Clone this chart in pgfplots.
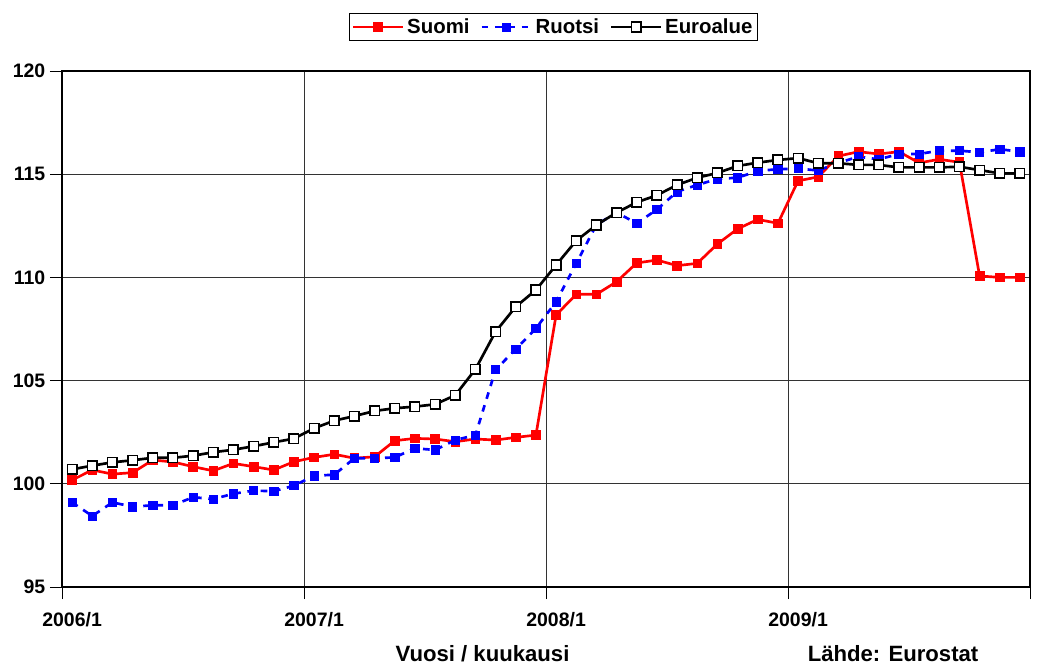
\documentclass[border=0pt]{standalone}
\usepackage{fontspec}
\setmainfont{Liberation Sans}
\usepackage{pgfplots}
\usepackage{pgfplotstable}
\pgfplotsset{compat=1.18}
\pgfplotstableread{
i s r e
0 100.18 99.10 100.70
1 100.67 98.44 100.88
2 100.47 99.10 101.04
3 100.54 98.89 101.14
4 101.15 98.96 101.26
5 101.06 98.96 101.26
6 100.83 99.35 101.36
7 100.63 99.26 101.53
8 100.99 99.52 101.65
9 100.83 99.67 101.82
10 100.67 99.64 102.01
11 101.07 99.91 102.19
12 101.28 100.39 102.69
13 101.43 100.44 103.06
14 101.24 101.24 103.28
15 101.31 101.24 103.53
16 102.09 101.28 103.66
17 102.20 101.72 103.74
18 102.17 101.64 103.85
19 102.04 102.12 104.29
20 102.17 102.36 105.55
21 102.12 105.53 107.37
22 102.25 106.52 108.58
23 102.36 107.53 109.39
24 108.18 108.82 110.60
25 109.18 110.68 111.78
26 109.18 112.55 112.54
27 109.79 113.14 113.14
28 110.70 112.62 113.64
29 110.84 113.29 113.98
30 110.57 114.15 114.48
31 110.68 114.48 114.83
32 111.62 114.77 115.06
33 112.35 114.83 115.40
34 112.81 115.16 115.56
35 112.62 115.24 115.69
36 114.68 115.27 115.78
37 114.87 115.18 115.53
38 115.88 115.55 115.53
39 116.09 115.85 115.45
40 115.98 115.72 115.45
41 116.09 115.98 115.33
42 115.55 115.98 115.33
43 115.72 116.14 115.33
44 115.58 116.14 115.36
45 110.07 116.06 115.20
46 110.00 116.21 115.04
47 110.00 116.09 115.04
}\datatable
\begin{document}
\begin{tikzpicture}
\useasboundingbox (-46.5pt,-60.75pt) rectangle (731.25pt,440.25pt);
\begin{axis}[
  at={(0pt,0pt)}, anchor=south west,
  scale only axis,
  width=726pt, height=387pt,
  xmin=-0.5, xmax=47.5, ymin=95, ymax=120,
  xtick={-0.5,11.5,23.5,35.5,47.5},
  xticklabels={2006/1,2007/1,2008/1,2009/1,{}},
  ytick={95,100,105,110,115,120},
  tick align=outside,
  major tick length=9pt,
  xmajorgrids, ymajorgrids,
  grid style={black!80, line width=0.7pt},
  axis line style={black, line width=0.8pt},
  tick style={black, line width=0.7pt},
  xtick pos=bottom, ytick pos=left,
  /pgf/number format/assume math mode=true,
  ticklabel style={font=\fontsize{14.6}{17}\selectfont\bfseries},
  xticklabel style={xshift=7.5625pt, yshift=-6.5pt},
  clip=false,
  legend columns=3,
  legend style={at={(axis description cs:0.5077,1.0853)}, anchor=center,
    draw=black, line width=0.8pt, fill=white,
    font=\fontsize{15.3}{17}\selectfont\bfseries,
    inner xsep=2pt, inner ysep=1.5pt,
    /tikz/every even column/.append style={column sep=6pt}},
  legend image code/.code={\draw[mark repeat=2,mark phase=2,#1] plot coordinates {(0cm,0cm) (0.66cm,0cm) (1.32cm,0cm)};},
]
\addplot[red, line width=2pt, mark=square*, mark size=3.3pt, mark options={solid, fill=red, draw=red, line width=0.5pt}] table[x=i, y=s] {\datatable};
\addlegendentry{Suomi}
\addplot[blue, line width=2pt, dash pattern=on 5pt off 5pt, mark=square*, mark size=3.1pt, mark options={solid, fill=blue, draw=blue, line width=0.5pt}] table[x=i, y=r] {\datatable};
\addlegendentry{Ruotsi}
\addplot[black, line width=2pt, mark=square*, mark size=3.6pt, mark options={solid, fill=white, draw=black, line width=1.1pt}] table[x=i, y=e] {\datatable};
\addlegendentry{Euroalue}
\node[font=\fontsize{16.6}{19}\selectfont\bfseries, inner sep=0pt, anchor=base] at (rel axis cs:0.4344,-0.1453) {Vuosi / kuukausi};
\node[font=\fontsize{16.6}{19}\selectfont\bfseries, inner sep=0pt, anchor=base] at (rel axis cs:0.8585,-0.1453) {Lähde: Eurostat};
\end{axis}
\end{tikzpicture}
\end{document}
